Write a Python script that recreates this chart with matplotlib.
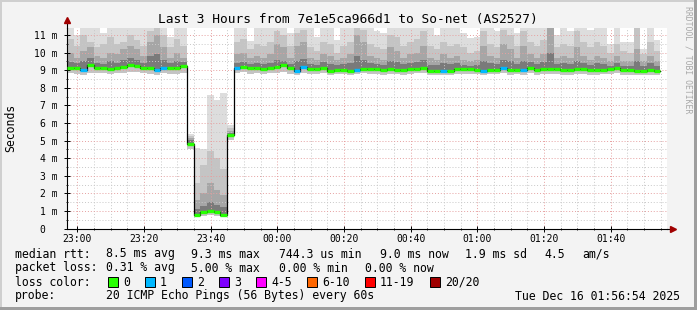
"""SmokePing style latency chart: last 3 hours, 7e1e5ca966d1 -> So-net (AS2527)."""

import matplotlib
matplotlib.use("Agg")
import matplotlib.pyplot as plt
import numpy as np
from matplotlib.patches import Rectangle

plt.rcParams["font.family"] = ["DejaVu Sans Mono"]

W, H = 697, 310

# ---------------------------------------------------------------------------
# Data (2-minute bins, ms) starting 22:56:54
# ---------------------------------------------------------------------------
START_MIN = 56.9          # minutes after 22:00
STEP_MIN = 2.0
SPAN_MIN = 180.0

median = [
    9.12, 9.12, 9.00, 9.32, 9.12, 9.10, 9.08, 9.12, 9.20, 9.28,
    9.25, 9.10, 9.15, 9.03, 9.10, 9.10, 9.15, 9.22, 4.82, 0.78,
    0.95, 1.02, 0.92, 0.80, 5.30, 9.15, 9.20, 9.10, 9.15, 9.05,
    9.10, 9.20, 9.27, 9.13, 8.97, 9.18, 9.05, 9.05, 9.15, 8.98,
    9.00, 9.02, 8.98, 9.03, 9.08, 9.05, 9.05, 8.99, 9.05, 9.00,
    9.00, 9.05, 9.08, 9.15, 8.97, 8.95, 8.93, 8.98, 9.05, 9.05,
    9.05, 9.03, 8.98, 9.03, 9.03, 9.15, 9.00, 9.03, 9.00, 9.10,
    9.00, 9.05, 9.05, 9.05, 9.00, 9.00, 9.05, 9.05, 9.00, 9.00,
    9.03, 9.05, 9.10, 9.00, 9.00, 8.98, 8.95, 9.00, 8.97,
]
loss = [
    0, 0, 1, 0, 0, 0, 0, 0, 0, 0,
    0, 0, 0, 1, 1, 0, 0, 0, 0, 0,
    0, 0, 0, 0, 0, 1, 0, 0, 0, 0,
    0, 0, 0, 0, 1, 1, 0, 0, 0, 0,
    0, 0, 0, 1, 0, 0, 0, 0, 0, 0,
    0, 0, 0, 0, 0, 0, 1, 0, 0, 0,
    0, 0, 1, 0, 0, 1, 0, 0, 1, 0,
    0, 0, 0, 0, 0, 0, 0, 0, 0, 0,
    0, 0, 0, 0, 0, 0, 0, 0, 0,
]
smoke_max = [
    11.4, 11.0, 11.4, 11.4, 11.4, 11.1, 11.4, 11.4, 11.4, 11.4,
    11.4, 11.4, 11.4, 11.4, 11.4, 10.9, 11.4, 11.4, 5.40, 4.60,
    4.50, 7.60, 7.30, 7.70, 5.90, 11.4, 11.4, 10.65, 11.4, 11.4,
    11.4, 11.4, 11.4, 11.1, 11.4, 11.4, 11.4, 10.9, 11.4, 11.4,
    10.7, 11.4, 11.4, 11.4, 11.4, 11.4, 11.2, 11.1, 11.4, 11.4,
    11.4, 11.4, 11.4, 11.4, 11.4, 11.0, 11.4, 11.4, 11.4, 11.1,
    10.85, 10.9, 11.4, 11.4, 11.2, 11.4, 11.4, 11.1, 11.4, 11.4,
    11.4, 11.4, 11.4, 11.0, 11.4, 11.2, 11.4, 11.4, 11.3, 11.4,
    11.4, 10.5, 11.4, 10.6, 10.6, 11.4, 10.2, 11.4, 10.7,
]
smoke_p90 = [
    10.8, 10.4, 11.0, 10.6, 10.3, 10.5, 10.9, 10.5, 10.6, 11.0,
    10.7, 10.4, 11.2, 11.4, 11.0, 10.3, 10.8, 10.4, 5.25, 2.60,
    3.60, 4.40, 4.00, 3.40, 5.70, 10.6, 10.8, 10.2, 10.5, 10.4,
    10.6, 11.2, 11.0, 10.4, 11.1, 11.3, 10.3, 10.1, 10.6, 10.5,
    10.0, 10.4, 10.6, 11.4, 11.3, 10.5, 10.3, 10.2, 11.0, 10.9,
    10.4, 10.6, 10.8, 11.2, 10.4, 10.2, 10.6, 10.4, 10.5, 10.3,
    10.0, 10.1, 11.2, 10.5, 10.3, 11.3, 11.0, 10.4, 11.2, 10.6,
    10.4, 10.7, 11.4, 10.3, 10.5, 10.4, 11.2, 10.6, 10.3, 10.6,
    10.4, 10.0, 10.5, 10.1, 10.0, 11.4, 9.9, 10.6, 10.1,
]
smoke_p75 = [
    10.0, 9.7, 10.1, 10.3, 9.8, 9.7, 10.0, 9.9, 10.2, 10.4,
    10.2, 9.8, 10.6, 11.0, 10.3, 9.7, 10.0, 9.7, 5.15, 1.60,
    2.00, 2.60, 2.20, 1.90, 5.55, 9.9, 10.0, 9.7, 9.8, 9.7,
    9.9, 10.5, 10.3, 9.7, 10.4, 10.6, 9.7, 9.6, 9.9, 9.8,
    9.6, 9.7, 9.9, 11.0, 10.6, 9.8, 9.7, 9.6, 10.3, 10.1,
    9.7, 9.9, 10.0, 10.4, 9.7, 9.6, 9.9, 9.7, 9.8, 9.6,
    9.5, 9.6, 10.4, 9.8, 9.7, 10.5, 10.2, 9.7, 10.4, 9.9,
    9.7, 9.9, 11.4, 9.7, 9.8, 9.7, 10.3, 9.8, 9.6, 9.8,
    9.7, 9.5, 9.8, 9.5, 9.5, 10.2, 9.5, 9.8, 9.5,
]
smoke_p60 = [
    9.45, 9.40, 9.50, 9.70, 9.40, 9.35, 9.50, 9.40, 9.60, 9.70,
    9.60, 9.40, 9.80, 9.90, 9.60, 9.40, 9.50, 9.45, 5.05, 1.10,
    1.30, 1.50, 1.35, 1.20, 5.45, 9.40, 9.45, 9.35, 9.40, 9.35,
    9.40, 9.60, 9.55, 9.35, 9.55, 9.65, 9.35, 9.30, 9.45, 9.35,
    9.30, 9.35, 9.40, 9.80, 9.60, 9.40, 9.35, 9.30, 9.50, 9.45,
    9.35, 9.40, 9.45, 9.60, 9.30, 9.30, 9.40, 9.35, 9.40, 9.30,
    9.25, 9.30, 9.55, 9.40, 9.35, 9.60, 9.50, 9.35, 9.55, 9.45,
    9.35, 9.45, 10.0, 9.35, 9.40, 9.35, 9.50, 9.40, 9.30, 9.40,
    9.35, 9.25, 9.40, 9.25, 9.25, 9.50, 9.25, 9.40, 9.25,
]
smoke_min = [
    8.85, 8.80, 8.75, 8.85, 8.85, 8.85, 8.80, 8.85, 8.85, 8.90,
    8.90, 8.85, 8.80, 8.75, 8.85, 8.80, 8.80, 8.85, 4.55, 0.65,
    0.70, 0.75, 0.70, 0.65, 5.05, 8.85, 8.90, 8.80, 8.85, 8.80,
    8.85, 8.85, 8.90, 8.80, 8.75, 8.85, 8.80, 8.80, 8.85, 8.75,
    8.80, 8.80, 8.75, 8.80, 8.85, 8.80, 8.80, 8.75, 8.80, 8.80,
    8.75, 8.80, 8.85, 8.85, 8.75, 8.70, 8.70, 8.75, 8.80, 8.80,
    8.80, 8.80, 8.75, 8.80, 8.80, 8.85, 8.75, 8.80, 8.75, 8.85,
    8.75, 8.80, 8.80, 8.80, 8.75, 8.75, 8.80, 8.80, 8.75, 8.75,
    8.80, 8.80, 8.85, 8.75, 8.75, 8.75, 8.70, 8.75, 8.70,
]

x_tick_pos = [60, 80, 100, 120, 140, 160, 180, 200, 220]
x_tick_labels = ["23:00", "23:20", "23:40", "00:00", "00:20",
                 "00:40", "01:00", "01:20", "01:40"]
y_tick_pos = [0, 1, 2, 3, 4, 5, 6, 7, 8, 9, 10, 11]
y_tick_labels = ["0  ", "1 m", "2 m", "3 m", "4 m", "5 m", "6 m", "7 m",
                 "8 m", "9 m", "10 m", "11 m"]

loss_labels = ["0", "1", "2", "3", "4-5", "6-10", "11-19", "20/20"]
loss_colors = ["#26ff00", "#00b8ff", "#0059ff", "#7e00ff",
               "#ff00ff", "#ff6600", "#ff0000", "#a00000"]

# ---------------------------------------------------------------------------
# Figure
# ---------------------------------------------------------------------------


def fx(x):
    return x / W


def fy(y):
    return 1 - y / H


fig = plt.figure(figsize=(W / 100, H / 100), dpi=100, facecolor="#f3f3f3")
ax = fig.add_axes([fx(67), fy(228.6), 600 / W, 200.3 / H])
ax.set_facecolor("white")

n = len(median)
edges = START_MIN + STEP_MIN * np.arange(n + 1)


def ext(a):
    a = np.asarray(a, dtype=float)
    return np.append(a, a[-1])


med = ext(median)
ax.fill_between(edges, ext(smoke_min), ext(smoke_max), step="post",
                color="#dddddd", lw=0, zorder=1)
ax.fill_between(edges, ext(smoke_min), ext(smoke_p90), step="post",
                color="#c4c4c4", lw=0, zorder=1)
ax.fill_between(edges, med, ext(smoke_p75), step="post",
                color="#a6a6a6", lw=0, zorder=1)
ax.fill_between(edges, med, ext(smoke_p60), step="post",
                color="#7a7a7a", lw=0, zorder=1)

# median: thin black step line, coloured segments by loss on top
ax.step(edges, med, where="post", color="black", lw=0.9, zorder=3)
for i in range(n):
    ax.hlines(median[i], edges[i], edges[i + 1],
              color=loss_colors[loss[i]], lw=2.4, zorder=4)

ax.set_xlim(START_MIN, START_MIN + SPAN_MIN)
ax.set_ylim(0, 11.38)

ax.set_xticks(x_tick_pos)
ax.set_xticklabels(x_tick_labels, fontsize=7)
ax.set_xticks(np.arange(60, START_MIN + SPAN_MIN, 5), minor=True)
ax.set_yticks(y_tick_pos)
ax.set_yticklabels(y_tick_labels, fontsize=7)
ax.set_yticks(np.arange(0.5, 11.4, 0.5), minor=True)
ax.tick_params(which="major", direction="inout", length=4, width=0.7,
               pad=2)
ax.tick_params(axis="y", which="major", pad=5)
ax.tick_params(which="minor", direction="inout", length=2, width=0.6)

ax.set_axisbelow(False)
ax.grid(which="major", color="#e6a0a0", ls=(0, (1, 2)), lw=0.7)
ax.grid(which="minor", color="#c8c8c8", ls=(0, (1, 2)), lw=0.7)

for s in ("top", "right"):
    ax.spines[s].set_visible(False)
ax.spines["left"].set_linewidth(0.8)
ax.spines["bottom"].set_linewidth(0.8)

# axis extensions with arrows
ax.plot([0, 0], [1, 1.03], transform=ax.transAxes, color="black", lw=0.8,
        clip_on=False)
ax.plot([0], [1.04], transform=ax.transAxes, marker="^", ms=5,
        color="#a00000", clip_on=False)
ax.plot([1, 1.008], [0, 0], transform=ax.transAxes, color="black", lw=0.8,
        clip_on=False)
ax.plot([1.01], [0], transform=ax.transAxes, marker=">", ms=5,
        color="#a00000", clip_on=False)

# ---------------------------------------------------------------------------
# Texts
# ---------------------------------------------------------------------------
fig.text(fx(348), fy(19.5), "Last 3 Hours from 7e1e5ca966d1 to So-net (AS2527)",
         ha="center", va="center", fontsize=9.3)
fig.text(fx(11), fy(128), "Seconds", rotation=90, ha="center", va="center",
         fontsize=8.3)
fig.text(fx(688), fy(60), "RRDTOOL / TOBI OETIKER", rotation=270,
         ha="center", va="center", fontsize=5.9, color="#a8a8a8")

LEG = 8.3
row_y = [254, 268, 282, 296]
rows = [
    [(15, "median rtt:"), (106, "8.5 ms avg"), (191, "9.3 ms max"),
     (279, "744.3 us min"), (380, "9.0 ms now"), (465, "1.9 ms sd"),
     (544, "4.5"), (582, "am/s")],
    [(15, "packet loss:"), (106, "0.31 % avg"), (191, "5.00 % max"),
     (279, "0.00 % min"), (365, "0.00 % now")],
    [(15, "loss color:")],
    [(15, "probe:"), (106, "20 ICMP Echo Pings (56 Bytes) every 60s")],
]
for y, row in zip(row_y, rows):
    for x, s in row:
        fig.text(fx(x), fy(y), s, ha="left", va="center", fontsize=LEG)

fig.text(fx(680), fy(296), "Tue Dec 16 01:56:54 2025", ha="right",
         va="center", fontsize=LEG)

box_x = [108, 145, 182, 219, 256, 307, 365, 430]
for bx, lab, col in zip(box_x, loss_labels, loss_colors):
    fig.add_artist(Rectangle((fx(bx), fy(287)), 10 / W, 10 / H,
                             transform=fig.transFigure, facecolor=col,
                             edgecolor="black", lw=0.7))
    fig.text(fx(bx + 15), fy(282), lab, ha="left", va="center", fontsize=LEG)

# frame shading
fig.add_artist(Rectangle((0, 0), 2 / W, 1, transform=fig.transFigure,
                         facecolor="#cfcfcf", lw=0))
fig.add_artist(Rectangle((0, 1 - 2 / H), 1, 2 / H, transform=fig.transFigure,
                         facecolor="#cfcfcf", lw=0))
fig.add_artist(Rectangle((1 - 3 / W, 0), 3 / W, 1, transform=fig.transFigure,
                         facecolor="#9e9e9e", lw=0))
fig.add_artist(Rectangle((0, 0), 1, 3 / H, transform=fig.transFigure,
                         facecolor="#9e9e9e", lw=0))

fig.savefig("out.png", dpi=100, facecolor=fig.get_facecolor())
